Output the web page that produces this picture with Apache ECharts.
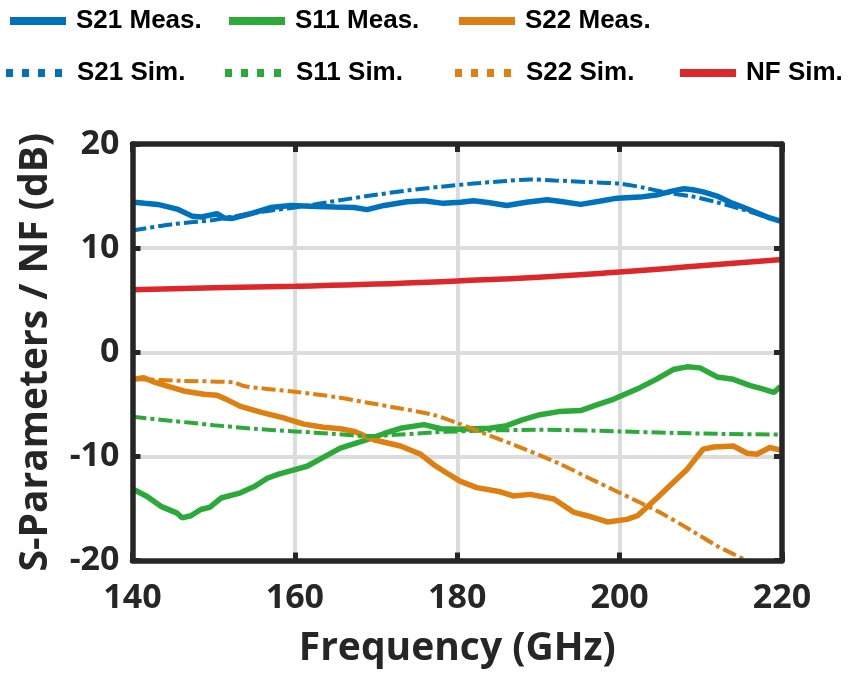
<!DOCTYPE html>
<html>
<head>
<meta charset="utf-8">
<script src="https://cdn.jsdelivr.net/npm/echarts@6/dist/echarts.min.js"></script>
<style>
  html, body { margin: 0; padding: 0; background: #fff; }
  #chart { width: 849px; height: 675px; }
</style>
</head>
<body>
<div id="chart"></div>
<script>
// axis ticks
const xTicks = [140, 160, 180, 200, 220];
const yTicks = [-20, -10, 0, 10, 20];

// S21 measured
const s21MeasFreq = [140.2, 141.5, 143.1, 145.5, 147.4, 148.5, 150.4, 151.3, 152.3, 154.5, 157, 159.5, 162.8, 165, 167.3, 168.9, 171, 173.8, 175.9, 178.3, 180.4, 182, 184, 186.1, 188.5, 191.1, 193, 195.2, 197.5, 199.7, 202.5, 204.5, 206.6, 207.9, 209, 210.3, 212, 213.6, 215.3, 216.9, 218.5, 219.8];
const s21Meas = [14.4, 14.3, 14.2, 13.75, 13.05, 13.0, 13.3, 12.9, 12.85, 13.3, 13.9, 14.1, 14.0, 13.95, 13.9, 13.7, 14.1, 14.45, 14.55, 14.3, 14.4, 14.55, 14.35, 14.1, 14.4, 14.65, 14.45, 14.2, 14.5, 14.8, 14.9, 15.1, 15.5, 15.7, 15.6, 15.4, 15.0, 14.4, 13.9, 13.4, 12.9, 12.6];

// S11 measured
const s11MeasFreq = [140.2, 141.8, 143.5, 145.5, 146.1, 147.2, 148.4, 149.5, 150.9, 153.3, 155, 156.6, 158, 159.9, 161.5, 163.5, 165.6, 168.9, 171, 173, 175.9, 178, 180, 182, 184, 186.1, 188, 190.2, 192.5, 195.2, 197, 199.3, 202.5, 204.5, 206.6, 208.3, 209.9, 212, 214, 216.1, 217.5, 219, 219.8];
const s11Meas = [-13.2, -13.85, -14.8, -15.45, -15.9, -15.7, -15.1, -14.9, -14.0, -13.5, -12.9, -12.1, -11.7, -11.3, -10.95, -10.1, -9.2, -8.4, -7.8, -7.3, -6.95, -7.35, -7.4, -7.35, -7.3, -7.05, -6.5, -6.0, -5.7, -5.6, -5.1, -4.5, -3.4, -2.6, -1.66, -1.4, -1.5, -2.37, -2.6, -3.2, -3.5, -3.85, -3.3];

// S22 measured
const s22MeasFreq = [140.2, 141.4, 142.8, 144.3, 146.3, 148.8, 150.4, 151.5, 153.3, 156, 158.6, 161.1, 163.5, 165.6, 167.3, 169.7, 173, 175.5, 177.1, 178.5, 180.4, 182.4, 185.3, 186.9, 189, 191.9, 194.3, 196, 198.5, 200.9, 202.2, 204.6, 206.6, 208.3, 210.3, 211.6, 214, 215.7, 216.9, 218.5, 219.8];
const s22Meas = [-2.6, -2.45, -2.9, -3.25, -3.72, -4.04, -4.13, -4.5, -5.2, -5.8, -6.3, -6.9, -7.2, -7.35, -7.6, -8.4, -9.0, -9.8, -10.8, -11.5, -12.4, -13.0, -13.4, -13.8, -13.65, -14.1, -15.35, -15.7, -16.3, -16.05, -15.7, -14.0, -12.5, -11.25, -9.3, -9.1, -9.0, -9.7, -9.8, -9.15, -9.4];

// S21 simulated
const s21SimFreq = [140, 145, 150, 152.5, 156, 160, 164, 168.9, 174, 178, 182, 186, 189, 192, 196, 200, 203, 206, 208.7, 212, 215, 218, 220];
const s21Sim = [11.7, 12.3, 12.7, 13.05, 13.5, 13.9, 14.4, 15.0, 15.55, 15.9, 16.2, 16.45, 16.6, 16.5, 16.35, 16.2, 15.8, 15.3, 15.0, 14.4, 13.75, 13.0, 12.5];

// S11 simulated
const s11SimFreq = [140, 145, 150, 155, 160, 165, 169, 173, 177, 180, 185, 190, 195, 200, 206.6, 213, 220];
const s11Sim = [-6.2, -6.6, -7.0, -7.35, -7.6, -7.85, -8.05, -7.9, -7.7, -7.6, -7.5, -7.45, -7.5, -7.6, -7.75, -7.85, -7.9];

// S22 simulated
const s22SimFreq = [140, 146, 152.5, 153.7, 160, 165, 169, 173, 177, 180, 183, 187, 192.3, 196, 200, 205, 209, 212, 215.3, 216.5];
const s22Sim = [-2.55, -2.75, -2.9, -3.25, -3.8, -4.3, -4.85, -5.4, -6.0, -6.8, -7.7, -8.9, -10.6, -12.0, -13.5, -15.4, -17.2, -18.6, -19.9, -20.6];

// NF simulated
const nfSimFreq = [140, 150, 160, 170, 180, 190, 200, 210, 220];
const nfSim = [6.0, 6.2, 6.35, 6.55, 6.85, 7.2, 7.7, 8.3, 8.9];

const BLUE = '#0072BD';
const GREEN = '#2BAA3A';
const ORANGE = '#DE7F10';
const RED = '#DC282A';
const FRAME = '#262626';
const AXIS_FONT = "'Open Sans', 'DejaVu Sans', sans-serif";
// four small squares, used as the legend icon of the simulated curves
const DOTS_ICON = 'path://M0,0h7v8h-7z M16,0h7v8h-7z M32,0h7v8h-7z M49,0h7v8h-7z';

const zip = (xs, ys) => xs.map((x, i) => [x, ys[i]]);

const measLine = (name, color, xs, ys) => ({
    name: name,
    type: 'line',
    data: zip(xs, ys),
    symbol: 'none',
    z: 2,
    lineStyle: { color: color, width: 5.5 },
    itemStyle: { color: color }
});

const simLine = (name, color, xs, ys) => ({
    name: name,
    type: 'line',
    data: zip(xs, ys),
    symbol: 'none',
    smooth: 0.3,
    z: 3,
    lineStyle: { color: color, width: 4, type: [14, 4, 4, 4] },
    itemStyle: { color: color }
});

const series = [
    measLine('S21 Meas.', BLUE, s21MeasFreq, s21Meas),
    measLine('S11 Meas.', GREEN, s11MeasFreq, s11Meas),
    measLine('S22 Meas.', ORANGE, s22MeasFreq, s22Meas),
    simLine('S21 Sim.', BLUE, s21SimFreq, s21Sim),
    simLine('S11 Sim.', GREEN, s11SimFreq, s11Sim),
    simLine('S22 Sim.', ORANGE, s22SimFreq, s22Sim),
    {
        name: 'NF Sim.',
        type: 'line',
        data: zip(nfSimFreq, nfSim),
        symbol: 'none',
        smooth: true,
        z: 4,
        lineStyle: { color: RED, width: 5.5 },
        itemStyle: { color: RED }
    }
];

// legend layout: [name, left, top, dotted]
const legendItems = [
    ['S21 Meas.', 6, 8, false], ['S11 Meas.', 225, 8, false], ['S22 Meas.', 455, 8, false],
    ['S21 Sim.', 6, 60, true], ['S11 Sim.', 225, 60, true], ['S22 Sim.', 455, 60, true],
    ['NF Sim.', 676, 60, false]
];

const legends = legendItems.map(([name, left, top, dotted]) => ({
    left: left,
    top: top,
    padding: 0,
    itemWidth: 56,
    itemHeight: 8,
    selectedMode: false,
    lineStyle: { width: 8 },
    textStyle: {
        fontFamily: "'Liberation Sans', Arial, sans-serif",
        fontWeight: 'bold',
        fontSize: 26,
        color: '#000',
        padding: [0, 0, 0, dotted ? 10 : 5]
    },
    data: [dotted ? { name: name, icon: DOTS_ICON } : { name: name }]
}));

// frame axis (line + inward ticks), drawn above the series
const frameAxis = (extra) => Object.assign({
    type: 'value',
    z: 10,
    axisLine: { show: true, onZero: false, lineStyle: { color: FRAME, width: 5.5 } },
    axisTick: { show: true, inside: true, length: 8, lineStyle: { color: FRAME, width: 5 } },
    axisLabel: { show: false },
    splitLine: { show: false }
}, extra);

const gridAxis = (extra) => Object.assign({
    type: 'value',
    z: 0,
    axisLine: { show: false },
    axisTick: { show: false },
    axisLabel: { show: false },
    splitLine: { show: true, lineStyle: { color: '#DCDCDC', width: 4 } }
}, extra);

const xRange = { min: xTicks[0], max: xTicks[xTicks.length - 1], interval: 20 };
const yRange = { min: yTicks[0], max: yTicks[yTicks.length - 1], interval: 10 };

const chart = echarts.init(document.getElementById('chart'));
chart.setOption({
    backgroundColor: '#fff',
    animation: false,
    legend: legends,
    grid: { left: 132.5, right: 67, top: 144, bottom: 114.5 },
    xAxis: [
        frameAxis(Object.assign({
            position: 'bottom',
            name: 'Frequency (GHz)',
            nameLocation: 'middle',
            nameGap: 69,
            nameTextStyle: { fontFamily: AXIS_FONT, fontWeight: 'bold', fontSize: 39, color: FRAME },
            axisLabel: { show: true, margin: 21, fontFamily: AXIS_FONT, fontWeight: 'bold', fontSize: 34, color: FRAME }
        }, xRange)),
        frameAxis(Object.assign({ position: 'top' }, xRange)),
        gridAxis(Object.assign({ position: 'bottom' }, xRange))
    ],
    yAxis: [
        frameAxis(Object.assign({
            position: 'left',
            name: 'S-Parameters / NF (dB)',
            nameLocation: 'middle',
            nameGap: 77,
            nameTextStyle: { fontFamily: AXIS_FONT, fontWeight: 'bold', fontSize: 39, color: FRAME },
            axisLabel: { show: true, margin: 13, fontFamily: AXIS_FONT, fontWeight: 'bold', fontSize: 34, color: FRAME }
        }, yRange)),
        frameAxis(Object.assign({ position: 'right' }, yRange)),
        gridAxis(Object.assign({ position: 'left' }, yRange))
    ],
    series: series
});
</script>
</body>
</html>
